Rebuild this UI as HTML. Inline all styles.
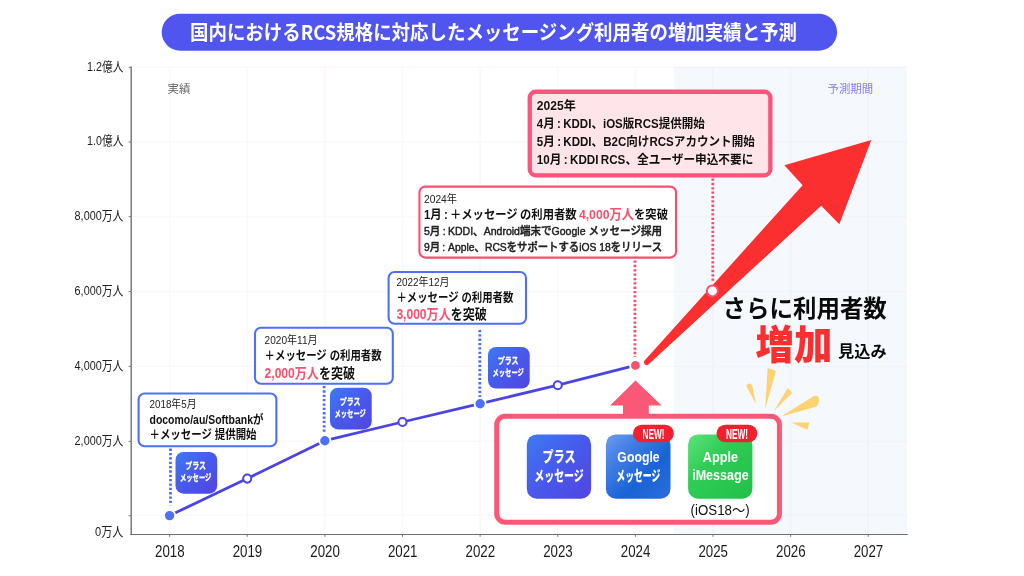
<!DOCTYPE html>
<html lang="ja">
<head>
<meta charset="utf-8">
<title>国内におけるRCS規格に対応したメッセージング利用者の増加実績と予測</title>
<style>
html,body{margin:0;padding:0;background:#fff;}
body{width:1024px;height:576px;overflow:hidden;position:relative;}
svg{position:absolute;left:0;top:0;display:block;will-change:transform;transform:translateZ(0);}
text{font-family:"Liberation Sans","Noto Sans CJK JP",sans-serif;}
.jp{font-family:"Noto Sans CJK JP","Liberation Sans",sans-serif;}
.b{font-weight:700;}
.m{font-weight:500;stroke:#222;stroke-width:.45px;}
.k{font-weight:900;}
.sk{stroke:#fff;stroke-width:.3px;}
.ax{font-size:13px;fill:#222;}
.yr{font-size:15.7px;fill:#1c1c1c;}
.c1{font-size:11.5px;fill:#222;}
.c2{font-size:12.5px;font-weight:700;fill:#111;}
.c3{font-size:14px;font-weight:700;fill:#111;}
.pk{fill:#f8506f;}
.ic{fill:#fff;font-weight:700;}
</style>
</head>
<body>
<svg width="1024" height="576" viewBox="0 0 1024 576">
<defs>
  <linearGradient id="gPlus" x1="0" y1="0" x2="1" y2="1">
    <stop offset="0" stop-color="#3d7af3"/>
    <stop offset="0.5" stop-color="#4859ec"/>
    <stop offset="1" stop-color="#5145e0"/>
  </linearGradient>
  <linearGradient id="gGoogle" x1="0" y1="0" x2="1" y2="1">
    <stop offset="0" stop-color="#6d9cf0"/>
    <stop offset="0.3" stop-color="#3f7ce3"/>
    <stop offset="0.62" stop-color="#1963d6"/>
    <stop offset="1" stop-color="#2a6ddb"/>
  </linearGradient>
  <linearGradient id="gApple" x1="0" y1="0" x2="1" y2="1">
    <stop offset="0" stop-color="#5ce37b"/>
    <stop offset="0.38" stop-color="#30cd56"/>
    <stop offset="1" stop-color="#20c047"/>
  </linearGradient>
</defs>

<!-- title pill -->
<rect x="161.7" y="13.7" width="675.4" height="37" rx="18.5" fill="#5055f0"/>
<text class="jp b" x="190" y="39.6" font-size="20" fill="#fff" textLength="607" lengthAdjust="spacingAndGlyphs">国内におけるRCS規格に対応したメッセージング利用者の増加実績と予測</text>
<!-- plot background and grid -->
<rect x="674" y="67" width="233" height="467.4" fill="#f5f8fc"/>
<path d="M131 67.3H674M131 142.0H674M131 216.6H674M131 291.5H674M131 366.4H674M131 441.4H674M131 515.1H674M169.6 67V534.4M247.23 67V534.4M324.86 67V534.4M402.49 67V534.4M480.12 67V534.4M557.75 67V534.4M635.38 67V534.4" stroke="#fcf7f8" stroke-width="1.4" fill="none"/>
<path d="M674 67.3H907M674 142.0H907M674 216.6H907M674 291.5H907M674 366.4H907M674 441.4H907M674 515.1H907M713.01 67V534.4M790.64 67V534.4M868.27 67V534.4" stroke="#f1f2fa" stroke-width="1.5" fill="none"/>
<!-- axes -->
<path d="M131.2 66.6V534.9" stroke="#777" stroke-width="1.45" fill="none"/>
<path d="M130.4 534.4H907.7" stroke="#6e6e6e" stroke-width="1.05" fill="none"/>
<path d="M128.7 67.3H131M128.7 142.0H131M128.7 216.6H131M128.7 291.5H131M128.7 366.4H131M128.7 441.4H131M128.7 515.7H131M169.6 534.4V536.8M247.23 534.4V536.8M324.86 534.4V536.8M402.49 534.4V536.8M480.12 534.4V536.8M557.75 534.4V536.8M635.38 534.4V536.8M713.01 534.4V536.8M790.64 534.4V536.8M868.27 534.4V536.8" stroke="#777" stroke-width="1" fill="none"/>
<g class="ax" text-anchor="end">
<text x="123.4" y="70.5" textLength="36.3" lengthAdjust="spacingAndGlyphs">1.2億人</text>
<text x="123.4" y="145.2" textLength="36.3" lengthAdjust="spacingAndGlyphs">1.0億人</text>
<text x="123.4" y="219.8" textLength="48.8" lengthAdjust="spacingAndGlyphs">8,000万人</text>
<text x="123.4" y="294.7" textLength="48.8" lengthAdjust="spacingAndGlyphs">6,000万人</text>
<text x="123.4" y="369.6" textLength="48.8" lengthAdjust="spacingAndGlyphs">4,000万人</text>
<text x="123.4" y="444.6" textLength="48.8" lengthAdjust="spacingAndGlyphs">2,000万人</text>
<text x="123.4" y="536.3" textLength="28.3" lengthAdjust="spacingAndGlyphs">0万人</text>
</g>
<g class="yr" text-anchor="middle">
<text x="169.8" y="556.7" textLength="29.6" lengthAdjust="spacingAndGlyphs">2018</text>
<text x="247.43" y="556.7" textLength="29.6" lengthAdjust="spacingAndGlyphs">2019</text>
<text x="325.06" y="556.7" textLength="29.6" lengthAdjust="spacingAndGlyphs">2020</text>
<text x="402.69" y="556.7" textLength="29.6" lengthAdjust="spacingAndGlyphs">2021</text>
<text x="480.32" y="556.7" textLength="29.6" lengthAdjust="spacingAndGlyphs">2022</text>
<text x="557.95" y="556.7" textLength="29.6" lengthAdjust="spacingAndGlyphs">2023</text>
<text x="635.58" y="556.7" textLength="29.6" lengthAdjust="spacingAndGlyphs">2024</text>
<text x="713.21" y="556.7" textLength="29.6" lengthAdjust="spacingAndGlyphs">2025</text>
<text x="790.84" y="556.7" textLength="29.6" lengthAdjust="spacingAndGlyphs">2026</text>
<text x="868.47" y="556.7" textLength="29.6" lengthAdjust="spacingAndGlyphs">2027</text>
</g>
<text class="jp" x="167.5" y="92.8" font-size="11.4" fill="#666">実績</text>
<text class="jp" x="827.5" y="92.9" font-size="11.4" fill="#857bf4">予測期間</text>
<!-- data line -->
<polyline points="169.6,515.6 247.23,478.6 324.86,440.7 402.49,422.0 480.12,403.7 557.75,385.2 635.38,365.4" fill="none" stroke="#4a45e2" stroke-width="2.8" stroke-linejoin="round" stroke-linecap="round"/>
<!-- dotted connectors -->
<g fill="none" stroke-width="2.8" stroke-dasharray="2.3 2.05">
<path d="M170.5 448.6V505.4" stroke="#4f70f6"/>
<path d="M324.1 386V433" stroke="#4f70f6"/>
<path d="M479.8 329.9V397" stroke="#4f70f6"/>
<path d="M634.9 260.5V357" stroke="#f8506f"/>
<path d="M712.8 178.5V283" stroke="#f8506f"/>
</g>
<!-- red forecast arrow -->
<path d="M644.6 360.6 L802.6 185.2 L784.4 165.3 L871.3 140 L839.3 224.3 L821.2 205.8 L648.4 364.4 A2.7 2.7 0 0 1 644.6 360.6Z" fill="#fc2f30"/>
<!-- points -->
<circle cx="169.6" cy="515.6" r="5.6" fill="#4f70f6" stroke="#fff" stroke-width="1.8"/>
<circle cx="247.23" cy="478.6" r="4.05" fill="#fff" stroke="#4a45e2" stroke-width="2"/>
<circle cx="324.86" cy="440.7" r="5.6" fill="#4f70f6" stroke="#fff" stroke-width="1.8"/>
<circle cx="402.49" cy="422.0" r="4.05" fill="#fff" stroke="#4a45e2" stroke-width="2"/>
<circle cx="480.12" cy="403.7" r="5.6" fill="#4f70f6" stroke="#fff" stroke-width="1.8"/>
<circle cx="557.75" cy="385.2" r="4.05" fill="#fff" stroke="#4a45e2" stroke-width="2"/>
<circle cx="635.38" cy="365.4" r="5.3" fill="#f8506f" stroke="#fff" stroke-width="1.8"/>
<circle cx="712.4" cy="290.9" r="5.5" fill="#fff" stroke="#f8506f" stroke-width="2"/>
<!-- small plus-message icons -->
<rect x="175.5" y="452" width="41.7" height="41.7" rx="8" fill="url(#gPlus)"/>
<text class="jp ic k sk" x="195.7" y="469.4" font-size="9.3" text-anchor="middle" textLength="20.8" lengthAdjust="spacingAndGlyphs">プラス</text>
<text class="jp ic k sk" x="195.7" y="480.9" font-size="9.3" text-anchor="middle" textLength="31.2" lengthAdjust="spacingAndGlyphs">メッセージ</text>
<rect x="330" y="387.7" width="41.7" height="41.7" rx="8" fill="url(#gPlus)"/>
<text class="jp ic k sk" x="350.2" y="405.1" font-size="9.3" text-anchor="middle" textLength="20.8" lengthAdjust="spacingAndGlyphs">プラス</text>
<text class="jp ic k sk" x="350.2" y="416.6" font-size="9.3" text-anchor="middle" textLength="31.2" lengthAdjust="spacingAndGlyphs">メッセージ</text>
<rect x="488" y="346.9" width="41.7" height="41.7" rx="8" fill="url(#gPlus)"/>
<text class="jp ic k sk" x="508.2" y="364.3" font-size="9.3" text-anchor="middle" textLength="20.8" lengthAdjust="spacingAndGlyphs">プラス</text>
<text class="jp ic k sk" x="508.2" y="375.8" font-size="9.3" text-anchor="middle" textLength="31.2" lengthAdjust="spacingAndGlyphs">メッセージ</text>
<!-- callout 2018 -->
<rect x="138.6" y="393.5" width="137.8" height="52.8" rx="6" fill="#fff" stroke="#4f70f6" stroke-width="2.1"/>
<text class="c1" x="149.5" y="408.3" textLength="47" lengthAdjust="spacingAndGlyphs">2018年5月</text>
<text class="c2" x="149.5" y="423.6" textLength="114" lengthAdjust="spacingAndGlyphs">docomo/au/Softbankが</text>
<text class="c2" x="149.5" y="439.4" textLength="107" lengthAdjust="spacingAndGlyphs">＋メッセージ 提供開始</text>
<!-- callout 2020 -->
<rect x="255" y="327.7" width="137.8" height="56" rx="6" fill="#fff" stroke="#4f70f6" stroke-width="2.1"/>
<text class="c1" x="264.6" y="344.3" textLength="53" lengthAdjust="spacingAndGlyphs">2020年11月</text>
<text class="c2" x="264.6" y="360" textLength="117" lengthAdjust="spacingAndGlyphs">＋メッセージ の利用者数</text>
<text class="c3" x="264.6" y="377.7" textLength="90.5" lengthAdjust="spacingAndGlyphs"><tspan class="pk">2,000万人</tspan>を突破</text>
<!-- callout 2022 -->
<rect x="388.6" y="272" width="137.4" height="51.7" rx="6" fill="#fff" stroke="#4f70f6" stroke-width="2.1"/>
<text class="c1" x="396.4" y="286" textLength="53" lengthAdjust="spacingAndGlyphs">2022年12月</text>
<text class="c2" x="396.4" y="301.8" textLength="117" lengthAdjust="spacingAndGlyphs">＋メッセージ の利用者数</text>
<text class="c3" x="396.4" y="319.4" textLength="90.5" lengthAdjust="spacingAndGlyphs"><tspan class="pk">3,000万人</tspan>を突破</text>
<!-- callout 2024 -->
<rect x="419.4" y="186.6" width="256.6" height="71" rx="6" fill="#fff" stroke="#f8506f" stroke-width="2.1"/>
<text class="c1" x="424" y="202.6" textLength="33" lengthAdjust="spacingAndGlyphs">2024年</text>
<text class="c2" x="424" y="218.7" textLength="244" lengthAdjust="spacingAndGlyphs">1月<tspan font-size="9"> </tspan>:<tspan font-size="9"> </tspan>＋メッセージ<tspan font-size="9"> </tspan>の利用者数<tspan font-size="9"> </tspan><tspan class="pk" font-size="13.5">4,000万人</tspan>を突破</text>
<text class="c1 m" x="424" y="235" textLength="238" lengthAdjust="spacingAndGlyphs">5月<tspan font-size="9"> </tspan>:<tspan font-size="9"> </tspan>KDDI、Android端末でGoogle メッセージ採用</text>
<text class="c1 m" x="424" y="250.7" textLength="238" lengthAdjust="spacingAndGlyphs">9月<tspan font-size="9"> </tspan>: Apple、RCSをサポートするiOS 18をリリース</text>
<!-- callout 2025 -->
<rect x="529.75" y="91.75" width="240.6" height="83.6" rx="6" fill="#ffe4e9" stroke="#f9557a" stroke-width="4.3"/>
<text class="c2" x="536.8" y="110" textLength="39" lengthAdjust="spacingAndGlyphs">2025年</text>
<text class="c2" x="536.8" y="127.8" textLength="168" lengthAdjust="spacingAndGlyphs">4月<tspan font-size="9"> </tspan>:<tspan font-size="9"> </tspan>KDDI、iOS版RCS提供開始</text>
<text class="c2" x="536.8" y="145.6" textLength="218" lengthAdjust="spacingAndGlyphs">5月<tspan font-size="9"> </tspan>:<tspan font-size="9"> </tspan>KDDI、B2C向けRCSアカウント開始</text>
<text class="c2" x="536.8" y="163.8" textLength="216.5" lengthAdjust="spacingAndGlyphs">10月<tspan font-size="9"> </tspan>:<tspan font-size="9"> </tspan>KDDI<tspan font-size="9"> </tspan>RCS、全ユーザー申込不要に</text>
<!-- legend: up arrow + box -->
<path d="M635.5 380.4 L661.6 405.6 H648.8 V416 H623 V405.6 H610.1Z" fill="#fb5878"/>
<rect x="496.7" y="416.2" width="282.7" height="106" rx="8.5" fill="#fff" stroke="#fb5878" stroke-width="5"/>
<rect x="526.8" y="434.4" width="64.3" height="64.3" rx="10" fill="url(#gPlus)"/>
<rect x="605.9" y="434.4" width="64.6" height="64.3" rx="10" fill="url(#gGoogle)"/>
<rect x="688.1" y="434.4" width="64.3" height="64.3" rx="10" fill="url(#gApple)"/>
<g class="ic" text-anchor="middle" font-size="14.5">
<text class="jp k" x="559" y="461.8" textLength="33" lengthAdjust="spacingAndGlyphs">プラス</text>
<text class="jp k" x="559" y="480.8" textLength="49.5" lengthAdjust="spacingAndGlyphs">メッセージ</text>
<text x="638.5" y="462.3" textLength="42.3" lengthAdjust="spacingAndGlyphs">Google</text>
<text class="jp k" x="638.3" y="480.8" textLength="44" lengthAdjust="spacingAndGlyphs">メッセージ</text>
<text x="720.4" y="462.3" textLength="35.3" lengthAdjust="spacingAndGlyphs">Apple</text>
<text x="720.4" y="480" textLength="56.5" lengthAdjust="spacingAndGlyphs">iMessage</text>
</g>
<rect x="633" y="424.7" width="40.8" height="17.5" rx="8.75" fill="#f0202f"/>
<text class="ic" x="653.6" y="438.8" font-size="14.8" text-anchor="middle" textLength="22" lengthAdjust="spacingAndGlyphs">NEW!</text>
<rect x="716.5" y="424.7" width="40.8" height="17.5" rx="8.75" fill="#f0202f"/>
<text class="ic" x="737.1" y="438.8" font-size="14.8" text-anchor="middle" textLength="22" lengthAdjust="spacingAndGlyphs">NEW!</text>
<text x="690.6" y="514.6" font-size="14" fill="#111" textLength="59" lengthAdjust="spacingAndGlyphs">(iOS18〜)</text>
<!-- big forecast text -->
<text class="jp b" x="722.6" y="316.5" font-size="24" fill="#0a0a0a" textLength="164.2" lengthAdjust="spacingAndGlyphs">さらに利用者数</text>
<text class="jp k" x="755.6" y="358.6" font-size="39.5" fill="#fc2f30" textLength="77" lengthAdjust="spacingAndGlyphs">増加</text>
<text class="jp b" x="838" y="357.3" font-size="16" fill="#0a0a0a" textLength="48.6" lengthAdjust="spacingAndGlyphs">見込み</text>
<!-- sparkle -->
<g fill="#fdd272">
  <path d="M746.4 386.2 Q746.6 383.6 749.4 383.4 Q752 383.4 752.4 386 L755.8 403.8Z"/>
  <path d="M767.6 367.8 L775.9 370.9 L765.2 409Z"/>
  <path d="M787.8 388 L792.1 392.9 L773.8 410.9Z"/>
  <path d="M781.2 416.4 L813.5 396.2 Q817 394.2 818.6 397.6 Q820 401.5 816.6 406.6Z"/>
  <path d="M791.2 422.4 L809.3 422.4 L807.3 429.8Z"/>
</g>
</svg>
</body>
</html>
